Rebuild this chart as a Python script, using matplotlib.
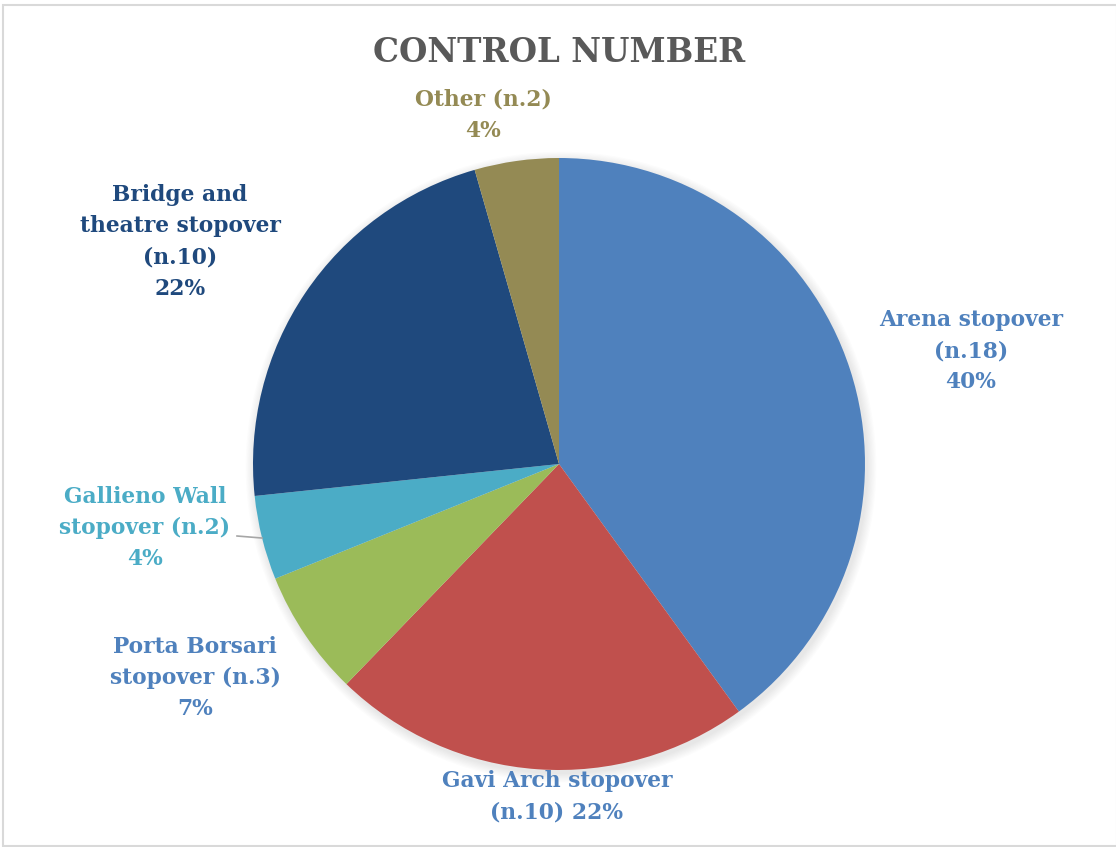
import numpy as np
import matplotlib.pyplot as plt
from matplotlib.patches import Rectangle

# Control number per stopover
labels = ['Arena stopover\n(n.18)\n40%',
          'Gavi Arch stopover\n(n.10) 22%',
          'Porta Borsari\nstopover (n.3)\n7%',
          'Gallieno Wall\nstopover (n.2)\n4%',
          'Bridge and\ntheatre stopover\n(n.10)\n22%',
          'Other (n.2)\n4%']
counts = [18, 10, 3, 2, 10, 2]
slice_colors = ['#4F81BD', '#C0504D', '#9BBB59', '#4BACC6', '#1F497D', '#948A54']
label_colors = ['#4F81BD', '#4F81BD', '#4F81BD', '#4BACC6', '#1F497D', '#948A54']
# label block centres in pixels (x, y from top)
label_pos = [(971, 351), (557, 797), (195, 678), (145, 528), (180, 242), (483, 115)]

W, H = 1116, 847
fig = plt.figure(figsize=(W / 100, H / 100), dpi=100)
ax = fig.add_axes([0, 0, 1, 1])

cx, cy, r = 559, H - 464, 306

# soft shadow under the pie
for k in range(8):
    ax.add_patch(plt.Circle((cx + 2, cy - 3), r + 1 + k * 1.2, color='black',
                            alpha=0.012, lw=0, zorder=0))

wedges, _ = ax.pie(counts, colors=slice_colors, startangle=90, counterclock=False,
                   center=(cx, cy), radius=r, frame=True,
                   wedgeprops=dict(linewidth=0))
ax.set_xlim(0, W)
ax.set_ylim(0, H)
ax.set_aspect('auto')
ax.axis('off')

font = 'DejaVu Serif'
for lab, col, (lx, ly) in zip(labels, label_colors, label_pos):
    ax.text(lx, H - ly, lab, ha='center', va='center', color=col, fontsize=15.7,
            fontweight='bold', family=font, linespacing=1.55, multialignment='center')

# leader line for the Gallieno Wall label
w = wedges[3]
mid = np.deg2rad((w.theta1 + w.theta2) / 2)
ex, ey = cx + r * np.cos(mid), cy + r * np.sin(mid)
ax.plot([237, ex], [H - 536, ey], color='#A6A6A6', lw=1.2)

ax.text(559, H - 52, 'CONTROL NUMBER', ha='center', va='center', color='#595959',
        fontsize=23.5, fontweight='bold', family=font)

# chart frame
ax.add_patch(Rectangle((3, 1), W - 2, H - 6, fill=False, edgecolor='#D9D9D9', lw=1.5))

fig.savefig('out.png', dpi=100)
